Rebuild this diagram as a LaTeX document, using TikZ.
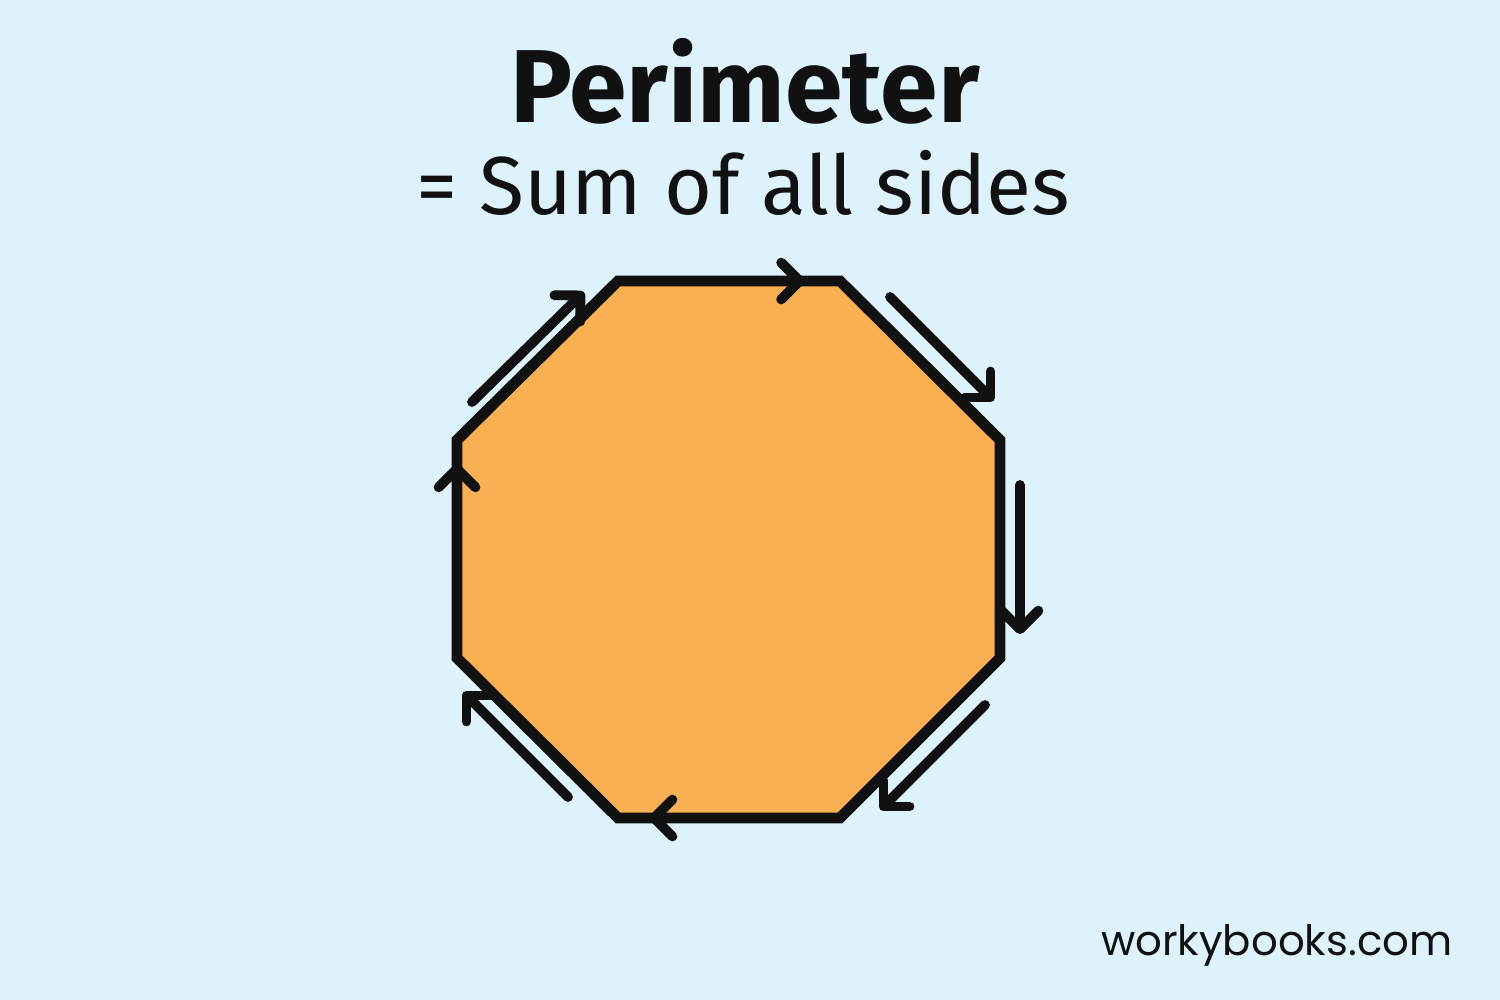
\documentclass[tikz,border=0pt]{standalone}
\usepackage{fontspec}
\setmainfont{Fira Sans}
\newfontfamily\sitefont{Poppins}
\usepackage{tikz}
\usetikzlibrary{arrows.meta,calc}

\definecolor{skybg}{RGB}{221,242,250}
\definecolor{octfill}{RGB}{248,176,82}
\definecolor{inkblack}{RGB}{17,17,17}

\begin{document}
\begin{tikzpicture}[
        x=0.01cm,y=-0.01cm,
        oct/.style={draw=inkblack,fill=octfill,line width=3.1pt,line join=miter},
        arr/.style={draw=inkblack,line width=2.8pt,line cap=round,
                    -{Straight Barb[angle=90:2.6mm,round]}},
        title/.style={font=\bfseries\fontsize{29.5}{34}\selectfont,text=inkblack,anchor=base,inner sep=0pt},
        sub/.style={font=\fontsize{23.4}{28}\selectfont,text=inkblack,anchor=base,inner sep=0pt},
        site/.style={font=\sitefont\fontsize{11.9}{14}\selectfont,text=inkblack,anchor=base east,inner sep=0pt}
    ]

    % background
    \fill[skybg] (0,0) rectangle (1500,1000);
    \useasboundingbox (0,0) rectangle (1500,1000);

    % octagon corners
    \coordinate (v1) at (618,281);
    \coordinate (v2) at (840,281);
    \coordinate (v3) at (1000,440);
    \coordinate (v4) at (1000,658);
    \coordinate (v5) at (840,818);
    \coordinate (v6) at (618,818);
    \coordinate (v7) at (457,658);
    \coordinate (v8) at (457,440);

    \draw[oct] (v1) -- (v2) -- (v3) -- (v4) -- (v5) -- (v6) -- (v7) -- (v8) -- cycle;

    % arrow heads sitting on the sides
    \draw[arr] (v1) -- ($(v1)!0.84!(v2)$);
    \draw[arr] (v5) -- ($(v5)!0.86!(v6)$);
    \draw[arr] (v7) -- ($(v7)!0.89!(v8)$);

    % arrows running beside the other sides
    \coordinate (trS) at (890,297);  \coordinate (trE) at (994,401);
    \coordinate (rS)  at (1020,485); \coordinate (rE)  at (1020,634);
    \coordinate (brS) at (985,705);  \coordinate (brE) at (880,810);
    \coordinate (blS) at (568,797);  \coordinate (blE) at (463,692);
    \coordinate (tlS) at (472,402);  \coordinate (tlE) at (584,292);

    \draw[arr] (trS) -- (trE);
    \draw[arr] (rS) -- (rE);
    \draw[arr] (brS) -- (brE);
    \draw[arr] (blS) -- (blE);
    \draw[arr] (tlS) -- (tlE);

    % texts
    \node[title] (ttl) at (745,122) {Perimeter};
    \node[sub] (sum) at (743,214) {= Sum of all sides};
    \node[site] (web) at (1453,955) {workybooks.com};

\end{tikzpicture}
\end{document}
